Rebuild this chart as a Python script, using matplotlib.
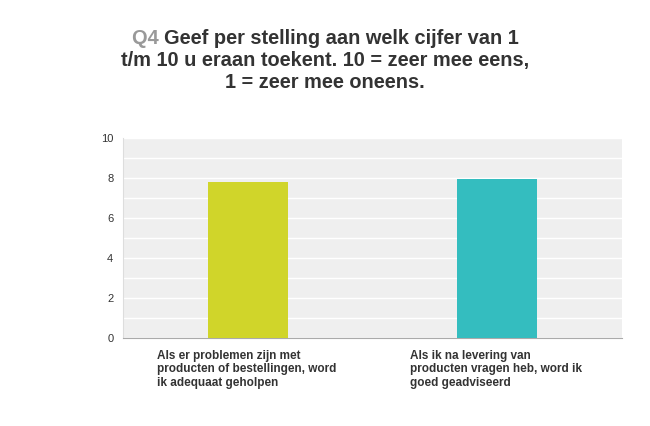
import matplotlib
matplotlib.use("Agg")
import matplotlib.pyplot as plt
import numpy as np

plt.rcParams['font.family'] = ['Liberation Sans', 'DejaVu Sans']

# data
categories = ["Als er problemen zijn met\nproducten of bestellingen, word\nik adequaat geholpen",
              "Als ik na levering van\nproducten vragen heb, word ik\ngoed geadviseerd"]
scores = [7.78, 7.96]
bar_colors = ["#d0d52a", "#34bdbf"]
yticks = [0, 2, 4, 6, 8, 10]

fig = plt.figure(figsize=(6.5, 4.26), dpi=100)
ax = fig.add_axes([123 / 650, 1 - 338 / 426, 499 / 650, 200 / 426])
ax.set_facecolor("#efefef")

x = np.arange(len(categories))
ax.bar(x, scores, width=0.32, color=bar_colors, zorder=3)
ax.set_xlim(-0.5, len(categories) - 0.5)
ax.set_ylim(0, 10)

# white grid every unit
ax.set_yticks(yticks)
ax.set_yticks(np.arange(0, 11, 1), minor=True)
ax.grid(axis='y', which='both', color='white', linewidth=1.0, zorder=1)
ax.tick_params(axis='y', which='both', length=0, labelsize=8, colors='#333333', pad=7)
ax.tick_params(axis='x', length=0, labelbottom=False)
for s in ['top', 'right']:
    ax.spines[s].set_visible(False)
ax.spines['left'].set_color('#dddddd')
ax.spines['bottom'].set_color('#aaaaaa')

# category labels, left-aligned under each bar
label_x = [157, 410]
for lx, txt in zip(label_x, categories):
    fig.text(lx / 650, 1 - 350 / 426, txt, ha='left', va='top', fontsize=8.5,
             fontweight='bold', color='#333333', linespacing=1.15)

# title with grey question number
title_lines = ["Geef per stelling aan welk cijfer van 1",
               "t/m 10 u eraan toekent. 10 = zeer mee eens,",
               "1 = zeer mee oneens."]
fs = 14.4
renderer = fig.canvas.get_renderer()
q = fig.text(0, 0, "Q4 ", fontsize=fs, fontweight='bold', color='#999999')
rest = fig.text(0, 0, title_lines[0], fontsize=fs, fontweight='bold', color='#333333')
wq = q.get_window_extent(renderer).width
wr = rest.get_window_extent(renderer).width
x0 = (650 / 2 - (wq + wr) / 2)
y1 = 1 - 44 / 426
q.set_position((x0 / 650, y1))
rest.set_position(((x0 + wq) / 650, y1))
for i, line in enumerate(title_lines[1:], start=1):
    fig.text(0.5, 1 - (44 + 22 * i) / 426, line, ha='center', fontsize=fs,
             fontweight='bold', color='#333333')

fig.savefig("out.png", dpi=100)
